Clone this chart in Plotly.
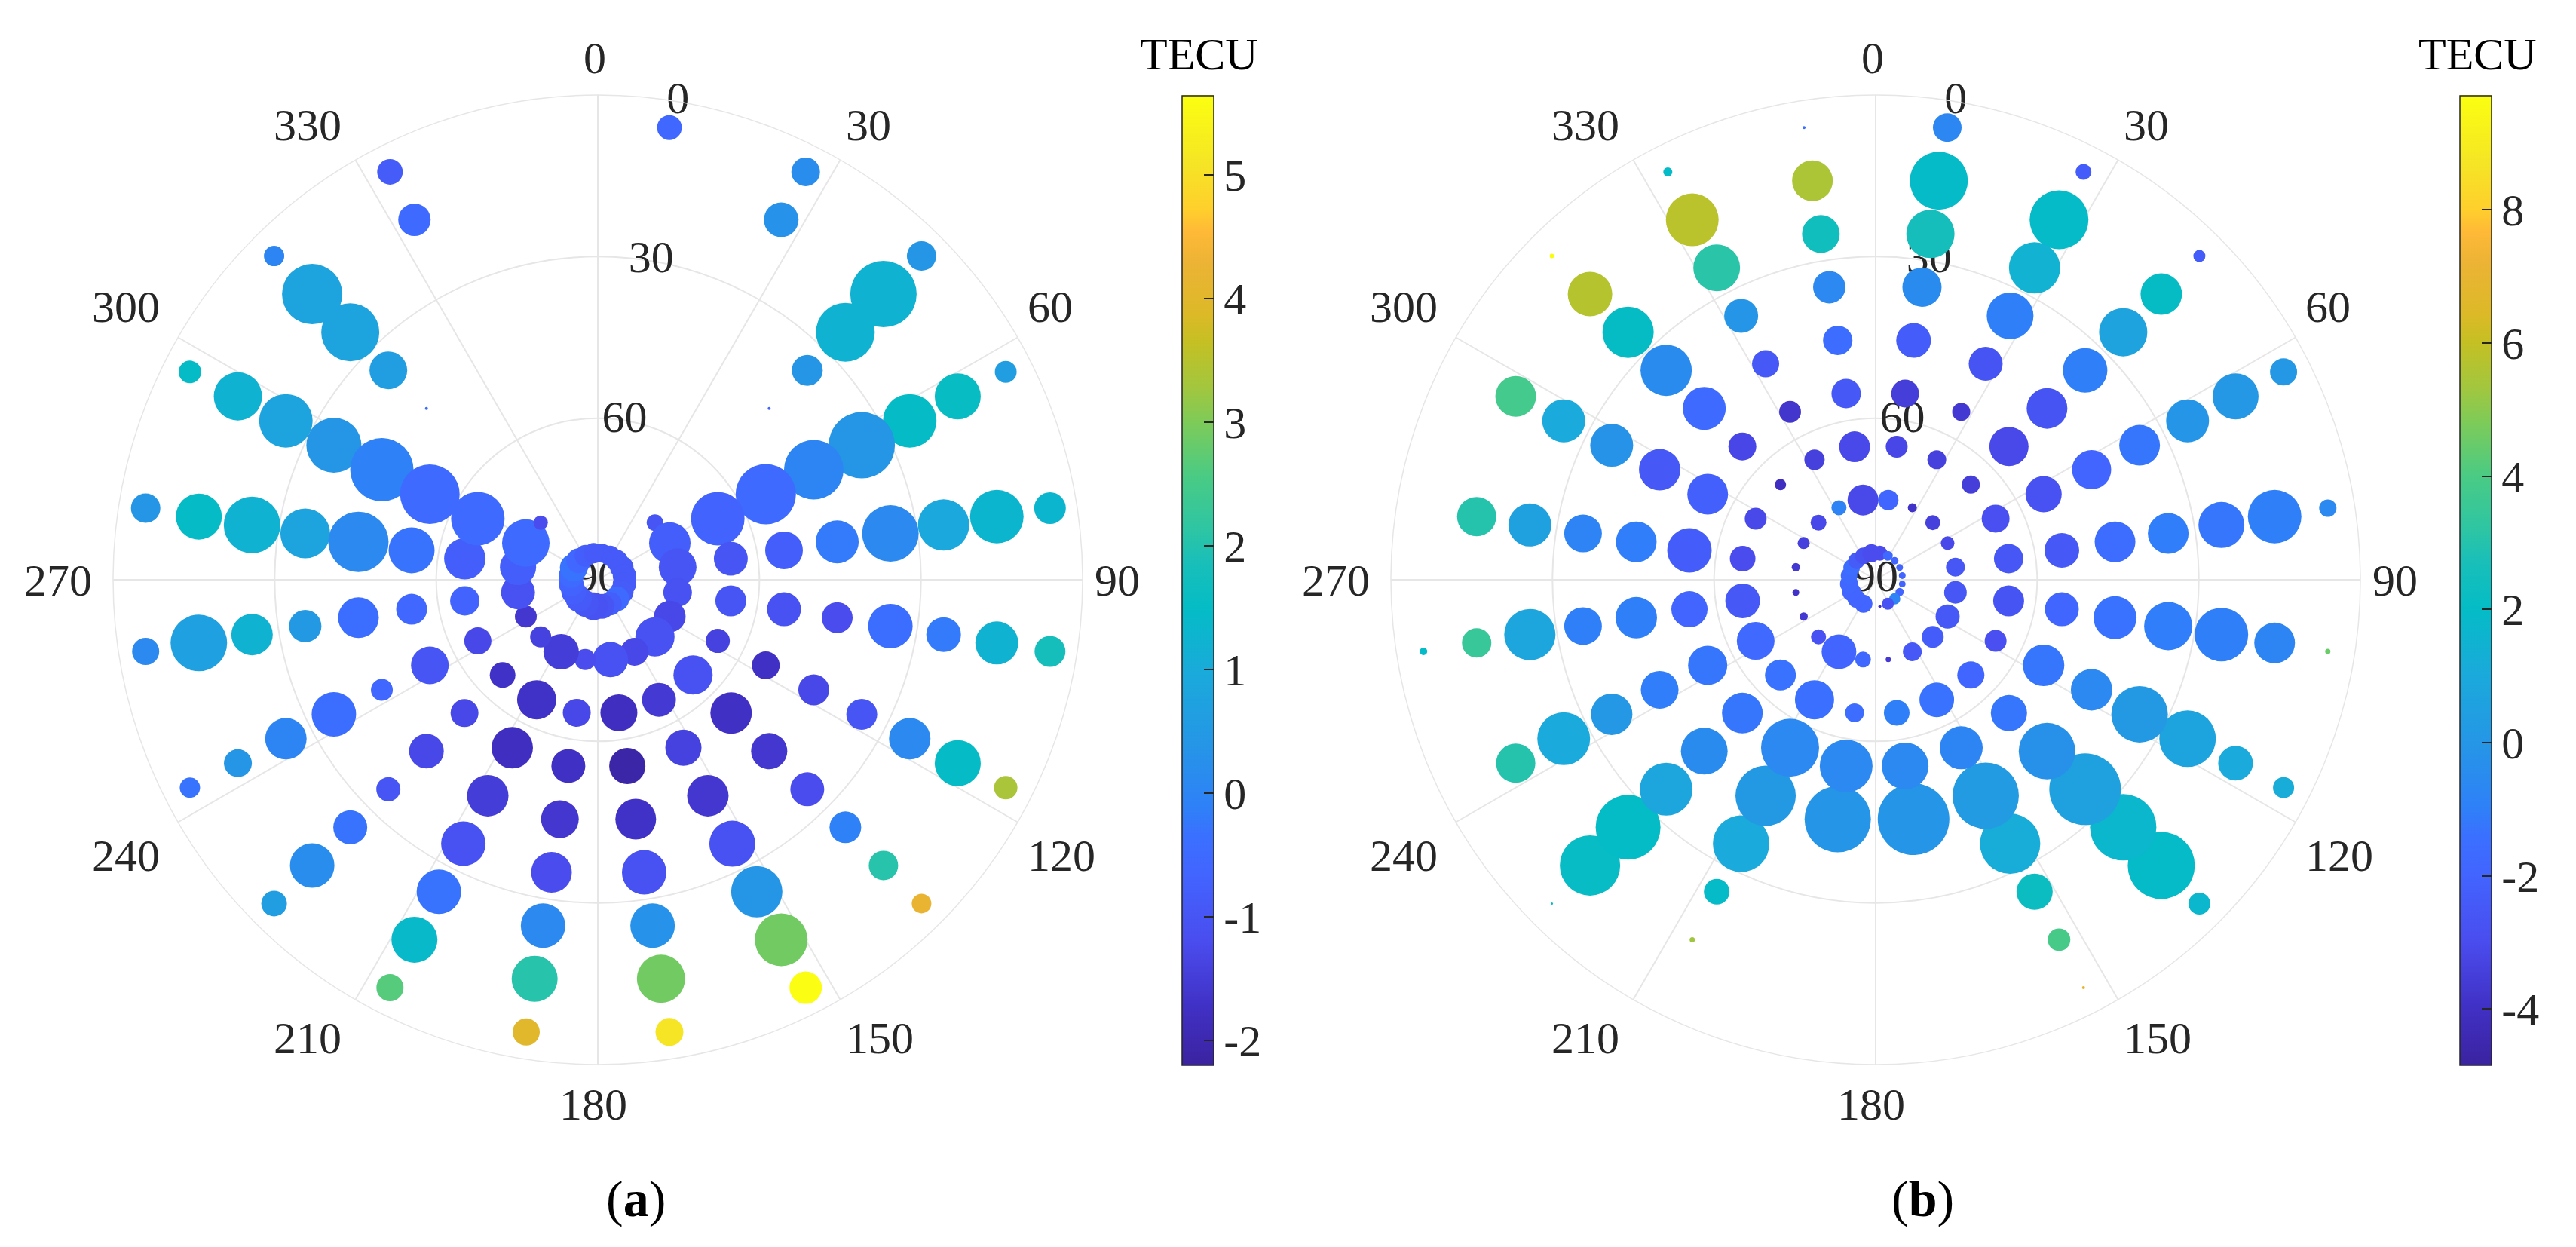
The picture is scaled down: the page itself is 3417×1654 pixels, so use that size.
import plotly.graph_objects as go

# Skyplots of TEC residuals, two panels. Azimuth spokes every 18 deg, elevation rings every 10 deg.
azimuths = [9, 27, 45, 63, 81, 99, 117, 135, 153, 171, 189, 207, 225, 243, 261, 279, 297, 315, 333, 351]
elevations = [5, 15, 25, 35, 45, 55, 65, 75, 85]

angle_ticks = [0, 30, 60, 90, 120, 150, 180, 210, 240, 270, 300, 330]
elev_ticks = [0, 30, 60, 90]

N = None

# panel (a): TECU value per azimuth, one list per elevation ring
a_tec_05 = [-0.6, 0.2, 0.4, 0.6, 1.3, 1.8, 3.35, 4.2, 5.6, 5.1, 4.0, 2.65, 0.6, -0.3, 0.1, 0.4, 1.5, 0.0, -0.85, N]
a_tec_15 = [N, 0.3, 1.2, 1.55, 1.3, 1.2, 1.5, 2.05, 2.9, 2.9, 2.05, 1.4, 0.2, 0.4, 0.7, 1.5, 1.2, 0.8, -0.5, N]
a_tec_25 = [N, N, 1.2, 1.5, 0.9, -0.2, 0.1, -0.1, 0.4, 0.3, 0.1, -0.3, -0.3, 0.0, 1.2, 1.2, 0.8, 0.8, N, N]
a_tec_35 = [N, N, 0.4, 0.4, 0.1, -0.4, -1.0, -1.2, -1.1, -1.1, -1.2, -1.1, -1.0, -0.4, 0.5, 0.8, 0.4, 0.6, N, N]
a_tec_45 = [N, N, -0.7, 0.0, -0.2, -1.2, -1.3, -1.6, -1.6, -1.7, -1.6, -1.5, -1.3, -0.6, -0.4, 0.1, -0.1, -0.5, N, N]
a_tec_55 = [N, N, N, -0.5, -0.8, -1.1, -1.75, -1.75, -1.4, -2.1, -1.75, -1.8, -1.3, -1.0, -0.6, -0.3, -0.5, N, N, N]
a_tec_65 = [N, N, N, -0.7, -1.0, -1.0, -1.4, -1.1, -1.55, -1.8, -1.3, -1.7, -1.7, -1.3, -0.7, -0.8, -0.5, N, N, N]
a_tec_75 = [N, N, -1.0, -0.8, -1.0, -1.1, -1.3, -1.1, -1.3, -1.1, -1.2, -1.5, -1.4, -1.6, -1.1, -0.8, -0.5, -1.2, N, N]
a_tec_85 = [-0.9, -0.9, -0.9, -0.9, -0.9, -0.9, -0.85, -0.5, -0.8, -1.0, -1.1, -1.0, -0.9, -0.8, -0.7, -0.5, -0.3, -0.6, -0.8, -0.9]

# panel (a): bubble diameters
a_dia_05 = [33, 38, 39, 29, 42, 41, 31, 26, 43, 37, 36, 36, 34, 27, 36, 39, 30, 27, 34, N]
a_dia_15 = [N, 46, 88, 61, 71, 57, 61, 39, 70, 64, 61, 61, 59, 37, 75, 61, 64, 80, 43, N]
a_dia_25 = [N, N, 78, 71, 68, 46, 55, 42, 68, 59, 59, 59, 45, 55, 55, 75, 71, 77, N, N]
a_dia_35 = [N, N, 41, 88, 75, 59, 41, 45, 61, 59, 54, 59, 32, 59, 43, 66, 73, 50, N, N]
a_dia_45 = [N, N, 4, 79, 57, 41, 41, 48, 55, 54, 50, 55, 46, 29, 54, 80, 84, 4, N, N]
a_dia_55 = [N, N, N, 80, 50, 45, 37, 55, 48, 48, 45, 55, 37, 50, 41, 61, 79, N, N, N]
a_dia_65 = [N, N, N, 71, 45, 41, 32, 52, 45, 49, 37, 52, 34, 36, 39, 55, 71, N, N, N]
a_dia_75 = [N, N, 22, 55, 50, 38, 42, 52, 37, 47, 28, 47, 28, 29, 45, 48, 63, 19, N, N]
a_dia_85 = [25, 27, 29, 31, 31, 31, 31, 33, 31, 33, 37, 35, 35, 33, 33, 33, 37, 33, 29, 27]

# panel (b): TECU value per azimuth
b_tec_05 = [-0.7, -2.3, -2.3, 0.05, -0.6, 4.5, 1.15, 1.75, 6.9, N, N, N, 2.0, N, 1.95, N, N, 9.6, 1.95, -1.55]
b_tec_15 = [1.95, 1.95, 2.05, 0.05, -1.0, -0.75, 1.05, 1.95, 3.9, N, N, 5.3, 2.1, 3.0, 3.5, 3.0, 3.8, 5.7, 5.8, 5.5]
b_tec_25 = [2.6, 1.45, 0.65, -0.05, -1.25, -1.0, 0.75, 1.75, 2.25, N, N, 1.95, 2.0, 1.05, 0.85, 0.55, 1.05, 2.05, 3.1, 2.4]
b_tec_35 = [-0.5, -1.0, -1.0, -1.25, -1.05, -1.05, 0.15, 0.55, 1.15, N, N, 1.05, 0.85, 0.05, -1.0, -0.85, -0.15, -0.5, -0.05, -0.6]
b_tec_45 = [-2.3, -2.65, -2.65, -2.0, -1.55, -1.35, -0.6, -0.25, 0.25, -0.05, -0.05, 0.15, -0.5, -1.05, -1.0, -1.05, -2.45, -1.7, -2.45, -1.55]
b_tec_55 = [-3.5, -3.7, -3.1, -2.75, -2.45, -1.9, -1.25, -1.25, -0.75, -0.6, -0.6, -0.6, -1.25, -1.25, -2.0, -2.3, -2.15, -3.2, -3.8, -2.45]
b_tec_65 = [-3.2, -3.4, -3.5, -2.9, -2.55, -2.65, -2.9, -1.9, -1.35, -1.0, -1.55, -1.45, -1.35, -1.75, -2.45, -3.0, -3.1, -4.1, -3.4, -3.1]
b_tec_75 = [-1.9, -3.9, -3.4, -3.1, -2.55, -2.55, -2.45, -2.3, -2.45, -3.7, -1.8, -2.0, -2.75, -3.7, -3.9, -3.7, -3.4, -3.1, -0.85, -3.1]
b_tec_85 = [-3.0, -1.75, -2.0, -2.0, -2.0, -2.0, -2.0, -0.85, -2.8, -4.0, N, -2.0, -2.0, -2.0, -1.85, -1.7, -1.55, -2.35, -2.8, -3.0]

# panel (b): bubble diameters
b_dia_05 = [38, 21, 16, 36, 23, 7, 28, 29, 4, N, N, N, 3, N, 10, N, N, 6, 12, 4]
b_dia_15 = [77, 78, 55, 61, 71, 54, 46, 89, 30, N, N, 7, 80, 52, 39, 52, 54, 59, 70, 54]
b_dia_25 = [64, 68, 64, 57, 61, 71, 75, 88, 48, N, N, 34, 86, 70, 68, 57, 57, 68, 62, 50]
b_dia_35 = [52, 62, 59, 54, 54, 64, 75, 95, 80, N, N, 75, 70, 55, 50, 50, 57, 68, 45, 43]
b_dia_45 = [46, 45, 54, 52, 54, 57, 55, 75, 88, 95, 88, 80, 62, 50, 55, 54, 55, 57, 36, 39]
b_dia_55 = [37, 24, 52, 48, 46, 45, 55, 48, 57, 62, 70, 77, 54, 52, 48, 59, 54, 37, 29, 39]
b_dia_65 = [29, 25, 24, 37, 39, 41, 29, 36, 46, 34, 25, 52, 41, 50, 46, 34, 29, 15, 27, 41]
b_dia_75 = [27, 12, 20, 18, 25, 30, 32, 29, 25, 7, 21, 46, 20, 11, 9, 11, 16, 21, 20, 41]
b_dia_85 = [20, 13, 10, 9, 9, 9, 11, 15, 16, 4, N, 24, 24, 25, 24, 22, 22, 22, 22, 24]

a_ticks = [5, 4, 3, 2, 1, 0, -1, -2]
b_ticks = [8, 6, 4, 2, 0, -2, -4]

a_range = [-2.195, 5.64]
b_range = [-4.84, 9.72]

parula = [
    [0.0, "#3b23a0"], [0.058, "#4030c4"], [0.126, "#4a4cee"], [0.195, "#4264ff"],
    [0.236, "#3a70ff"], [0.264, "#2f80f8"], [0.332, "#2596e6"], [0.404, "#1aaadb"],
    [0.47, "#04bcc6"], [0.52, "#1abfb8"], [0.551, "#2dc5a4"], [0.607, "#4acb84"],
    [0.662, "#7dcb59"], [0.70, "#a4c63d"], [0.744, "#c4c024"], [0.773, "#dcb927"],
    [0.827, "#ecb335"], [0.859, "#ffb937"], [0.882, "#ffcf2c"], [0.93, "#f5e525"],
    [1.0, "#fbff10"],
]

# the page has an 8px body margin, so the figure is drawn 8px smaller on each side
PAGE = 8
W, H = 3417 - 2 * PAGE, 1654 - 2 * PAGE
FONT = "Liberation Serif"
INK = "#262626"
GRID = "#e6e6e6"
RADIUS = 643
CX_A, CX_B, CY = 793, 2488, 769

# where the azimuth labels sit around each panel centre, in pixels
ANGLE_LABEL_OFFSET = {
    0: (-4, -692), 30: (359, -603), 60: (600, -362), 90: (689, 1),
    120: (615, 366), 150: (374, 608), 180: (-6, 696), 210: (-385, 608),
    240: (-626, 366), 270: (-716, 1), 300: (-626, -362), 330: (-385, -603),
}


def px(x):
    return (x - PAGE) / W


def py(y):
    return 1 - (y - PAGE) / H


def polar_axes(cx):
    return dict(
        domain=dict(x=[px(cx - RADIUS), px(cx + RADIUS)], y=[py(CY + RADIUS), py(CY - RADIUS)]),
        bgcolor="white",
        angularaxis=dict(direction="clockwise", rotation=90, tickmode="array",
                         tickvals=angle_ticks, showticklabels=False,
                         ticks="", showline=True, linecolor=GRID, linewidth=1.5,
                         gridcolor=GRID, gridwidth=1.5),
        radialaxis=dict(range=[90, 0], tickmode="array", tickvals=elev_ticks,
                        showticklabels=False, ticks="", showline=False,
                        gridcolor=GRID, gridwidth=1.5),
    )


def panel(rings_tec, rings_dia, subplot, rng, ticks, bar_x):
    r, theta, tec, dia = [], [], [], []
    for el, vals, sizes in zip(elevations, rings_tec, rings_dia):
        for az, v, s in zip(azimuths, vals, sizes):
            if v is None or s is None:
                continue
            r.append(el)
            theta.append(az)
            tec.append(v)
            dia.append(s)
    labels = go.Scatterpolar(r=elev_ticks, theta=[9.5] * len(elev_ticks), mode="text",
                             text=[str(t) for t in elev_ticks], textposition="middle center",
                             textfont=dict(family=FONT, size=60, color=INK),
                             subplot=subplot, showlegend=False)
    dots = go.Scatterpolar(
        r=r, theta=theta, mode="markers", subplot=subplot, showlegend=False,
        marker=dict(
            size=dia, sizemode="diameter", color=tec, cmin=rng[0], cmax=rng[1],
            colorscale=parula, line=dict(width=0), opacity=1,
            colorbar=dict(
                x=px(bar_x), xanchor="left", xpad=0, y=py(126.5), yanchor="top", ypad=0,
                thicknessmode="pixels", thickness=42, lenmode="fraction", len=(1412 - 126.5) / H,
                outlinecolor=INK, outlinewidth=1.5, ticks="inside", ticklen=13,
                tickwidth=1.5, tickcolor=INK, tickmode="array", tickvals=ticks,
                ticktext=[str(t) for t in ticks],
                tickfont=dict(family=FONT, size=60, color=INK),
            ),
        ),
    )
    return [labels, dots]


a_tec = [a_tec_05, a_tec_15, a_tec_25, a_tec_35, a_tec_45, a_tec_55, a_tec_65, a_tec_75, a_tec_85]
a_dia = [a_dia_05, a_dia_15, a_dia_25, a_dia_35, a_dia_45, a_dia_55, a_dia_65, a_dia_75, a_dia_85]
b_tec = [b_tec_05, b_tec_15, b_tec_25, b_tec_35, b_tec_45, b_tec_55, b_tec_65, b_tec_75, b_tec_85]
b_dia = [b_dia_05, b_dia_15, b_dia_25, b_dia_35, b_dia_45, b_dia_55, b_dia_65, b_dia_75, b_dia_85]

fig = go.Figure(panel(a_tec, a_dia, "polar", a_range, a_ticks, 1568)
                + panel(b_tec, b_dia, "polar2", b_range, b_ticks, 3263))


def note(text, x, y, color="black", size=60):
    return dict(text=text, x=px(x), y=py(y), xref="paper", yref="paper", showarrow=False,
                xanchor="center", yanchor="middle", font=dict(family=FONT, size=size, color=color))


notes = [note("TECU", 1590, 72), note("TECU", 3286, 72),
         note("(<b>a</b>)", 843, 1590, size=68), note("(<b>b</b>)", 2550, 1590, size=68)]
for cx in (CX_A, CX_B):
    for t in angle_ticks:
        dx, dy = ANGLE_LABEL_OFFSET[t]
        notes.append(note(str(t), cx + dx, CY + dy, INK))

fig.update_layout(
    width=W, height=H, margin=dict(l=0, r=0, t=0, b=0, autoexpand=False),
    paper_bgcolor="white", plot_bgcolor="white",
    polar=polar_axes(CX_A), polar2=polar_axes(CX_B),
    annotations=notes,
)
fig.write_html("out.html")
